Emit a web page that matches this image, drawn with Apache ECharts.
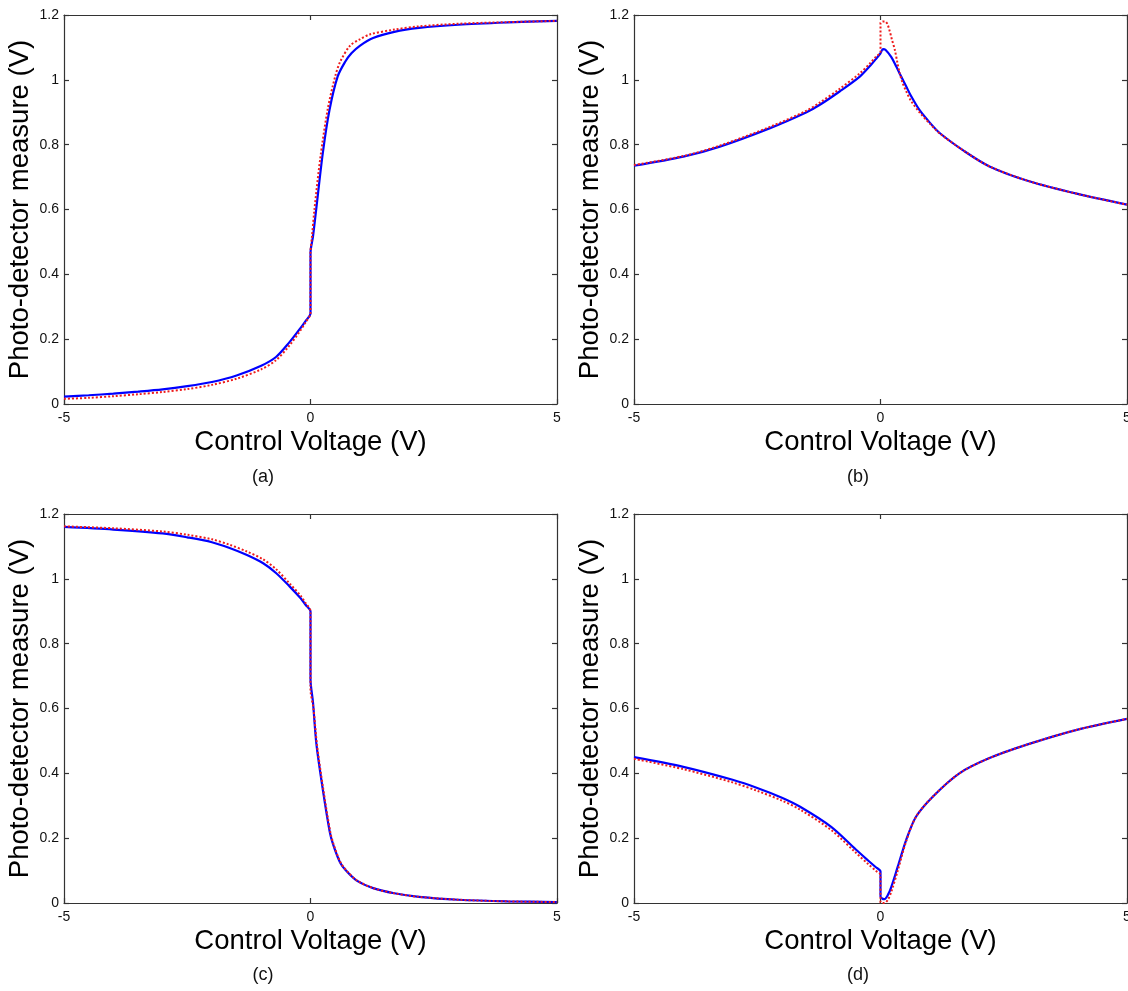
<!DOCTYPE html>
<html>
<head>
<meta charset="utf-8">
<script src="https://cdn.jsdelivr.net/npm/echarts@6/dist/echarts.min.js"></script>
<style>html,body{margin:0;padding:0;background:#fff;}#c{width:1128px;height:991px;}</style>
</head>
<body>
<div id="c"></div>
<script>
// ---- data (Control Voltage V, Photo-detector measure V) ----
const panelLabels = ['(a)', '(b)', '(c)', '(d)'];
const xTitle = 'Control Voltage (V)';
const yTitle = 'Photo-detector measure (V)';

const aBlue = [[-5,0.023],[-4.5,0.027],[-4,0.032],[-3.5,0.038],[-3,0.045],[-2.5,0.055],[-2,0.068],[-1.5,0.088],[-1,0.118],[-0.7,0.145],[-0.43,0.19],[-0.2,0.235],[-0.1,0.256],[0,0.28],[0,0.466],[0.05,0.516],[0.115,0.6],[0.25,0.775],[0.385,0.907],[0.55,1.01],[0.7,1.055],[0.83,1.082],[1.0,1.105],[1.27,1.129],[1.7,1.148],[2.2,1.16],[3,1.17],[4,1.177],[5,1.182]];
const aRed = [[-5,0.016],[-4.5,0.019],[-4,0.024],[-3.5,0.03],[-3,0.037],[-2.5,0.046],[-2,0.059],[-1.5,0.078],[-1,0.107],[-0.7,0.135],[-0.43,0.18],[-0.2,0.228],[-0.1,0.252],[0,0.28],[0,0.466],[0.03,0.516],[0.08,0.6],[0.2,0.76],[0.35,0.91],[0.5,1.01],[0.6,1.055],[0.8,1.105],[1.0,1.125],[1.2,1.14],[1.7,1.155],[2.2,1.165],[3,1.173],[4,1.178],[5,1.182]];

const bBlue = [[-5,0.735],[-4,0.763],[-3.26,0.794],[-2.24,0.851],[-1.5,0.9],[-1.23,0.923],[-0.83,0.964],[-0.42,1.01],[-0.2,1.045],[-0.1,1.063],[0,1.082],[0.05,1.095],[0.1,1.093],[0.22,1.07],[0.32,1.041],[0.42,1.01],[0.52,0.98],[0.62,0.95],[0.79,0.907],[1.0,0.868],[1.2,0.836],[1.7,0.78],[2.21,0.733],[3,0.688],[4,0.648],[5,0.615]];
const bRed = [[-5,0.737],[-4,0.765],[-3.26,0.797],[-2.24,0.855],[-1.5,0.905],[-1.23,0.93],[-0.83,0.972],[-0.42,1.02],[-0.2,1.053],[-0.1,1.07],[0,1.087],[0,1.175],[0.05,1.18],[0.095,1.18],[0.14,1.172],[0.18,1.154],[0.23,1.125],[0.29,1.093],[0.34,1.055],[0.39,1.02],[0.45,0.99],[0.52,0.965],[0.62,0.935],[0.79,0.9],[1.0,0.865],[1.2,0.835],[1.7,0.78],[2.21,0.733],[3,0.688],[4,0.648],[5,0.615]];

const cBlue = [[-5,1.16],[-4,1.152],[-3,1.14],[-2.5,1.128],[-2,1.113],[-1.64,1.095],[-1.3,1.074],[-0.96,1.048],[-0.7,1.018],[-0.42,0.976],[-0.2,0.94],[-0.1,0.92],[0,0.899],[0,0.69],[0.05,0.62],[0.12,0.49],[0.25,0.35],[0.39,0.22],[0.46,0.18],[0.6,0.125],[0.72,0.1],[0.93,0.07],[1.27,0.046],[1.7,0.03],[2.2,0.019],[3,0.01],[4,0.005],[5,0.003]];
const cRed = [[-5,1.162],[-4,1.156],[-3,1.146],[-2.5,1.136],[-2,1.122],[-1.64,1.105],[-1.3,1.085],[-0.96,1.06],[-0.7,1.03],[-0.42,0.985],[-0.2,0.948],[-0.1,0.925],[0,0.9],[0,0.66],[0.06,0.6],[0.13,0.49],[0.26,0.35],[0.4,0.22],[0.47,0.18],[0.61,0.125],[0.73,0.1],[0.94,0.07],[1.27,0.046],[1.7,0.03],[2.2,0.019],[3,0.01],[4,0.005],[5,0.003]];

const dBlue = [[-5,0.45],[-4,0.42],[-3,0.38],[-2.5,0.355],[-2,0.325],[-1.63,0.297],[-1,0.235],[-0.5,0.165],[-0.25,0.131],[-0.1,0.111],[0,0.097],[0,0.02],[0.04,0.013],[0.08,0.012],[0.15,0.025],[0.22,0.05],[0.35,0.112],[0.52,0.194],[0.72,0.266],[1.06,0.328],[1.6,0.4],[2.21,0.447],[3,0.49],[4,0.535],[5,0.568]];
const dRed = [[-5,0.445],[-4,0.413],[-3,0.372],[-2.5,0.346],[-2,0.316],[-1.63,0.288],[-1,0.225],[-0.5,0.155],[-0.25,0.12],[-0.1,0.1],[0,0.086],[0,0.002],[0.08,0.0],[0.15,0.01],[0.22,0.035],[0.35,0.1],[0.52,0.19],[0.72,0.266],[1.06,0.328],[1.6,0.4],[2.21,0.447],[3,0.49],[4,0.535],[5,0.568]];

const blueSets = [aBlue, bBlue, cBlue, dBlue];
const redSets = [aRed, bRed, cRed, dRed];

// ---- layout ----
const FONT = "'Liberation Sans', Arial, sans-serif";
const grids = [
  {left: 64, top: 15, width: 493, height: 389, outerBoundsMode: 'none', containLabel: false},
  {left: 634, top: 15, width: 493, height: 389, outerBoundsMode: 'none', containLabel: false},
  {left: 64, top: 514, width: 493, height: 389, outerBoundsMode: 'none', containLabel: false},
  {left: 634, top: 514, width: 493, height: 389, outerBoundsMode: 'none', containLabel: false}
];
const labelPos = [[263, 477], [858, 477], [263, 975], [858, 975]];

const axisLineStyle = {color: '#333', width: 1.2};
const xAxes = [], yAxes = [], series = [], graphics = [];
grids.forEach((g, i) => {
  const common = {
    gridIndex: i,
    axisLine: {show: true, onZero: false, lineStyle: axisLineStyle},
    axisTick: {show: true, inside: true, length: 5, lineStyle: axisLineStyle},
    splitLine: {show: false}
  };
  xAxes.push(Object.assign({}, common, {
    type: 'value', position: 'bottom', min: -5, max: 5, interval: 5,
    axisLabel: {margin: 7, fontSize: 14, color: '#111', fontFamily: FONT},
    name: xTitle, nameLocation: 'middle', nameGap: 24,
    nameTextStyle: {fontSize: 27.5, color: '#000', fontFamily: FONT}
  }));
  xAxes.push(Object.assign({}, common, {
    type: 'value', position: 'top', min: -5, max: 5, interval: 5,
    axisLabel: {show: false}
  }));
  yAxes.push(Object.assign({}, common, {
    type: 'value', position: 'left', min: 0, max: 1.2, interval: 0.2,
    axisLabel: {margin: 5, fontSize: 14, color: '#111', fontFamily: FONT},
    name: yTitle, nameLocation: 'middle', nameGap: 30,
    nameTextStyle: {fontSize: 27.5, color: '#000', fontFamily: FONT}
  }));
  yAxes.push(Object.assign({}, common, {
    type: 'value', position: 'right', min: 0, max: 1.2, interval: 0.2,
    axisLabel: {show: false}
  }));
  series.push({
    type: 'line', xAxisIndex: 2 * i, yAxisIndex: 2 * i,
    data: blueSets[i], showSymbol: false, smooth: 0.3,
    lineStyle: {color: '#0000ff', width: 2.2, type: 'solid'}, z: 2
  });
  series.push({
    type: 'line', xAxisIndex: 2 * i, yAxisIndex: 2 * i,
    data: redSets[i], showSymbol: false, smooth: 0.3,
    lineStyle: {color: '#ee1c1c', width: 2, type: [2, 2]}, z: 3
  });
  graphics.push({
    type: 'text', x: labelPos[i][0], y: labelPos[i][1],
    style: {text: panelLabels[i], font: '18px ' + FONT, fill: '#111',
      textAlign: 'center', textVerticalAlign: 'middle', align: 'center', verticalAlign: 'middle'}
  });
});

const chart = echarts.init(document.getElementById('c'), null, {renderer: 'canvas'});
chart.setOption({
  animation: false,
  backgroundColor: '#fff',
  grid: grids,
  xAxis: xAxes,
  yAxis: yAxes,
  series: series,
  graphic: graphics
});
</script>
</body>
</html>
